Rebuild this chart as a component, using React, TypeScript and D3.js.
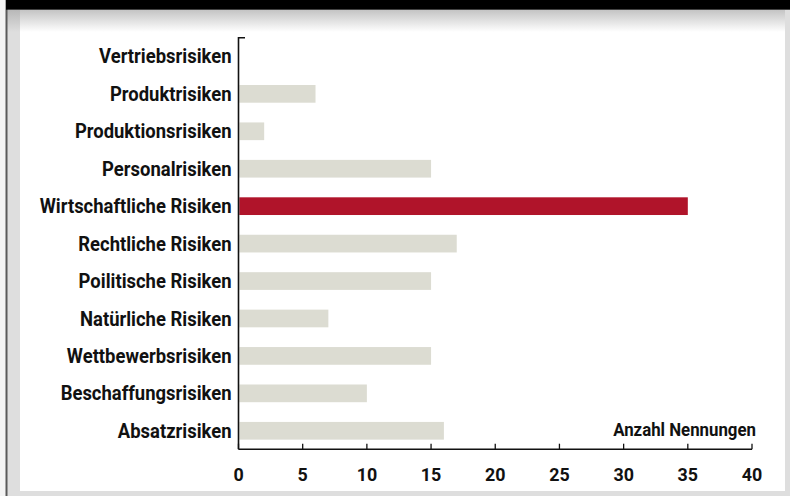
import React, { useLayoutEffect, useRef, useState } from "react";
import * as d3 from "d3";

const categories = [
  "Vertriebsrisiken",
  "Produktrisiken",
  "Produktionsrisiken",
  "Personalrisiken",
  "Wirtschaftliche Risiken",
  "Rechtliche Risiken",
  "Poilitische Risiken",
  "Natürliche Risiken",
  "Wettbewerbsrisiken",
  "Beschaffungsrisiken",
  "Absatzrisiken",
];
const values = [0, 6, 2, 15, 35, 17, 15, 7, 15, 10, 16];
const highlight = "Wirtschaftliche Risiken";
const xTicks = [0, 5, 10, 15, 20, 25, 30, 35, 40];
const xAxisTitle = "Anzahl Nennungen";

const W = 790;
const H = 496;
const FONT = "Roboto, 'DejaVu Sans', sans-serif";

export default function App() {
  const x = d3.scaleLinear().domain([0, 40]).range([238.5, 752]);
  const y = d3
    .scaleBand<string>()
    .domain(categories)
    .range([37.7, 449.5])
    .paddingInner(0.527)
    .paddingOuter(0.2635);
  const axisY = 449.2;
  const axisX = x(0);

  const labRef = useRef<SVGTextElement>(null);
  const tickRef = useRef<SVGTextElement>(null);
  const titleRef = useRef<SVGTextElement>(null);
  const [k, setK] = useState({ lab: 0.8, tick: 0.8, title: 0.8 });
  useLayoutEffect(() => {
    const a = labRef.current?.getComputedTextLength() || 1;
    const b = tickRef.current?.getComputedTextLength() || 1;
    const c = titleRef.current?.getComputedTextLength() || 1;
    setK({ lab: 192 / a, tick: 20.5 / b, title: 143 / c });
  }, []);

  return (
    <svg
      width={W}
      height={H}
      style={{ position: "absolute", left: 0, top: 0, display: "block" }}
    >
      <defs>
        <linearGradient id="topfade" x1="0" y1="0" x2="0" y2="1">
          <stop offset="0" stopColor="#c4c4c4" />
          <stop offset="1" stopColor="#ffffff" />
        </linearGradient>
        <linearGradient id="leftfade" x1="0" y1="0" x2="0" y2="1">
          <stop offset="0" stopColor="#b8b8b8" />
          <stop offset="1" stopColor="#dedede" />
        </linearGradient>
      </defs>
      {/* hidden measuring texts */}
      <g visibility="hidden">
        <text ref={labRef} fontFamily={FONT} fontWeight="bold" fontSize={19.5}>
          Wirtschaftliche Risiken
        </text>
        <text ref={tickRef} fontFamily={FONT} fontWeight="bold" fontSize={18}>
          40
        </text>
        <text ref={titleRef} fontFamily={FONT} fontWeight="bold" fontSize={17.5}>
          {xAxisTitle}
        </text>
      </g>
      {/* frame */}
      <rect x={0} y={0} width={W} height={H} fill="#f4f4f4" />
      <rect x={7} y={0} width={W - 7} height={H} fill="#dedede" />
      <rect x={20} y={10} width={765} height={481} fill="#ffffff" />
      <rect x={20} y={10} width={765} height={22} fill="url(#topfade)" />
      <rect x={7} y={10} width={13} height={22} fill="url(#leftfade)" />
      <rect x={5.5} y={0} width={2} height={H} fill="#5a5a5a" />
      <rect x={6} y={0} width={W - 6} height={9.7} fill="#000000" />

      {/* bars */}
      {categories.map((c, i) => (
        <rect
          key={c}
          x={x(0) + 0.8}
          y={y(c)!}
          width={Math.max(0, x(values[i]) - x(0) - 0.8)}
          height={y.bandwidth()}
          fill={c === highlight ? "#b0142a" : "#dcdcd2"}
        />
      ))}

      {/* y axis */}
      <path
        d={`M${axisX + 6.5},${37.7}H${axisX}V${axisY}`}
        fill="none"
        stroke="#111"
        strokeWidth={1.6}
      />
      {categories.map((c) => (
        <g
          key={c}
          transform={`translate(231.5,${y(c)! + y.bandwidth() / 2}) scale(${k.lab},1)`}
        >
          <text
            dy="0.36em"
            textAnchor="end"
            fontFamily={FONT}
            fontWeight="bold"
            fontSize={19.5}
            fill="#111"
          >
            {c}
          </text>
        </g>
      ))}

      {/* x axis */}
      <path
        d={`M${axisX},${axisY}H${x(40)}`}
        fill="none"
        stroke="#111"
        strokeWidth={1.6}
      />
      {xTicks.map((t) => (
        <g key={t}>
          <line
            x1={x(t)}
            x2={x(t)}
            y1={axisY}
            y2={axisY - 5.5}
            stroke="#111"
            strokeWidth={1.3}
          />
          <g transform={`translate(${x(t)},481) scale(${k.tick},1)`}>
            <text
              textAnchor="middle"
              fontFamily={FONT}
              fontWeight="bold"
              fontSize={18}
              fill="#111"
            >
              {t}
            </text>
          </g>
        </g>
      ))}
      <g
        transform={`translate(${x(40) + 4},${
          y(categories[categories.length - 1])! + y.bandwidth() / 2
        }) scale(${k.title},1)`}
      >
        <text
          dy="0.3em"
          textAnchor="end"
          fontFamily={FONT}
          fontWeight="bold"
          fontSize={17.5}
          fill="#111"
        >
          {xAxisTitle}
        </text>
      </g>
    </svg>
  );
}
